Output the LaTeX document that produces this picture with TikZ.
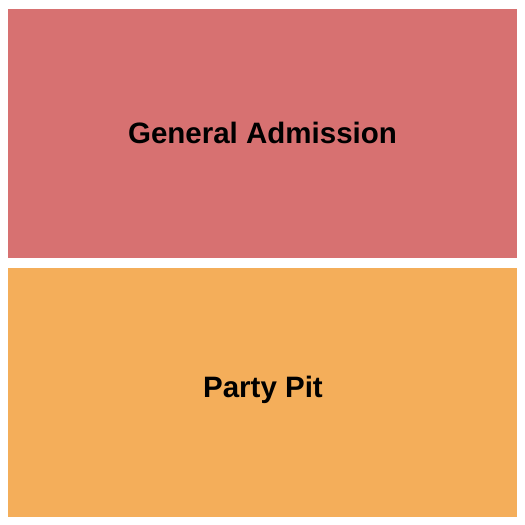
\documentclass[tikz,border=0pt]{standalone}
\usepackage{fontspec}
\setmainfont{Liberation Sans}
\definecolor{garea}{HTML}{D77171}
\definecolor{parea}{HTML}{F4AE5A}
\begin{document}
\begin{tikzpicture}[x=1pt,y=-1pt,
  zone/.style={draw=none,inner sep=0pt,anchor=north west},
  lbl/.style={font=\fontsize{29.5}{34}\selectfont\bfseries,text=black,inner sep=0pt,anchor=base}]
\useasboundingbox (0,0) rectangle (525,525);
\fill[white] (0,0) rectangle (525,525);
\node[zone,fill=garea,minimum width=509pt,minimum height=249pt] (ga) at (8,9) {};
\node[zone,fill=parea,minimum width=509pt,minimum height=249pt] (pp) at (8,268) {};
\node[lbl] (galbl) at (262.5,143) {General Admission};
\node[lbl] (pplbl) at (263,397) {Party Pit};
\end{tikzpicture}
\end{document}
